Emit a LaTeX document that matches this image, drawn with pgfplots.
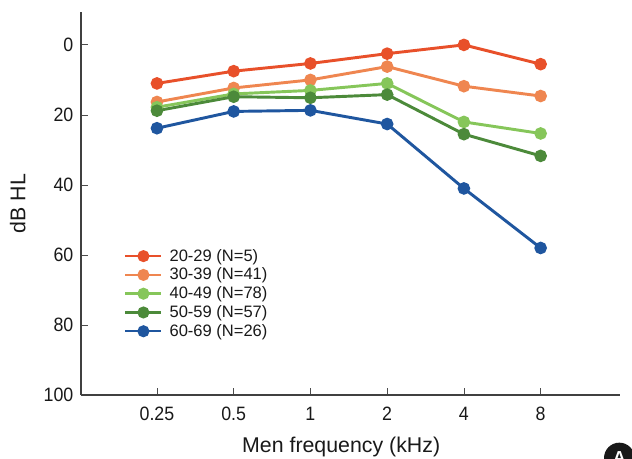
\documentclass[border=0pt]{standalone}
\usepackage{pgfplots}
\pgfplotsset{compat=1.18}
\usepackage{fontspec}
\setmainfont{Liberation Sans}
\definecolor{c1}{HTML}{E8502A}
\definecolor{c2}{HTML}{EF8650}
\definecolor{c3}{HTML}{86C65A}
\definecolor{c4}{HTML}{4C8A3A}
\definecolor{c5}{HTML}{1F569F}
\begin{document}
\begin{tikzpicture}[x=1pt,y=1pt]
\useasboundingbox (0,0) rectangle (474,343.5);
\begin{axis}[at={(60.75pt,47.25pt)},anchor=south west,width=404pt,height=287pt,scale only axis,
 xmin=-0.99,xmax=6.03,
 ymin=-9.3,ymax=100,y dir=reverse,
 axis x line*=bottom,axis y line*=left,
 xtick={0,1,2,3,4,5},xticklabels={0.25,0.5,1,2,4,8},
 ytick={0,20,40,60,80,100},
 /pgf/number format/assume math mode=true,
 tick label style={font=\fontsize{14.5}{16}\selectfont,text=black!90},
 x tick label style={yshift=-5.5pt,xscale=0.92},
 y tick label style={xshift=-2.5pt,xscale=0.92},
 xlabel={Men frequency (kHz)},ylabel={dB HL},
 label style={font=\fontsize{16}{18}\selectfont,text=black!90},
 tick align=inside,tick style={black!70,line width=0.6pt},major tick length=5pt,
 axis line style={black!75,line width=1pt,-},
 xlabel style={at={(axis description cs:0.483,0)},anchor=north,yshift=-28pt},
 ylabel style={at={(axis description cs:0,0.5)},anchor=south,yshift=38pt},
 legend style={at={(axis cs:-0.43,57.5)},anchor=north west,draw=none,fill=none,font=\fontsize{12.4}{14}\selectfont,inner sep=0pt,row sep=-0.4pt,text=black!90},
 legend cell align=left,
 legend image code/.code={\draw[#1,line width=1.8pt,mark repeat=2,mark phase=2] plot coordinates {(0pt,0pt)(13.5pt,0pt)(27pt,0pt)};\path (30pt,0pt);},
 every axis plot/.append style={line width=2.2pt,mark=*,mark size=3.6pt},
 clip=false]
\addplot[c1,mark options={fill=c1}] coordinates {(0,11)(1,7.5)(2,5.3)(3,2.5)(4,0)(5,5.5)};
\addplot[c2,mark options={fill=c2}] coordinates {(0,16.3)(1,12.3)(2,10)(3,6.2)(4,11.8)(5,14.6)};
\addplot[c3,mark options={fill=c3}] coordinates {(0,17.8)(1,14)(2,13)(3,11)(4,22)(5,25.3)};
\addplot[c4,mark options={fill=c4}] coordinates {(0,18.8)(1,14.8)(2,15.1)(3,14.2)(4,25.5)(5,31.7)};
\addplot[c5,mark options={fill=c5}] coordinates {(0,23.8)(1,19)(2,18.7)(3,22.6)(4,41)(5,58)};
\legend{20-29 (N=5),30-39 (N=41),40-49 (N=78),50-59 (N=57),60-69 (N=26)}
\end{axis}
\begin{scope}
\clip (0,0) rectangle (474,343.5);
\fill[black!90] (464.5,0) circle (11.5pt);
\node[text=white,font=\bfseries\fontsize{13}{15}\selectfont] at (464.5,0.5) {A};
\end{scope}
\end{tikzpicture}
\end{document}
